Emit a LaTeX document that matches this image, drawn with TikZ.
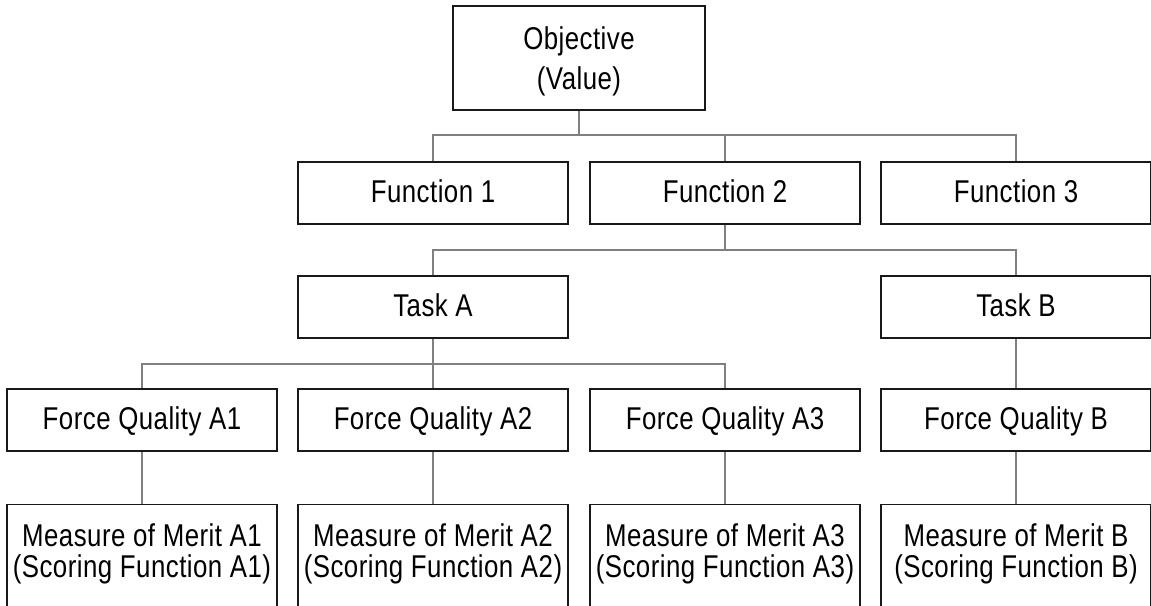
\documentclass[tikz,border=0pt]{standalone}
\usepackage{fontspec}
\newfontfamily\narrowsans[FakeStretch=0.82,LetterSpace=1.5]{Liberation Sans}
\definecolor{linkc}{RGB}{128,128,128}
\definecolor{boxc}{RGB}{25,25,25}
\begin{document}
\begin{tikzpicture}[x=1pt,y=-1pt,
  box/.style={draw=boxc, line width=1.2pt, fill=white, minimum width=270pt, minimum height=62pt,
    inner sep=0pt, text height=22.7pt, text depth=4.5pt, font={\narrowsans\fontsize{31.5}{38}\selectfont}},
  txt/.style={inner sep=0pt, anchor=base, font={\narrowsans\fontsize{31.5}{38}\selectfont}},
  link/.style={draw=linkc, line width=2.2pt}]
\useasboundingbox (0,0) rectangle (1151,605);
\clip (0,0) rectangle (1151,605);
\fill[white] (0,0) rectangle (1151,605);
% boxes
\node[box, minimum width=252pt, minimum height=104pt] (obj) at (579,58) {};
\node[txt] (objt1) at (579,49) {Objective};
\node[txt] (objt2) at (579,89) {(Value)};
\node[box] (f1) at (433,193) {Function 1};
\node[box] (f2) at (725,193) {Function 2};
\node[box] (f3) at (1016,193) {Function 3};
\node[box] (ta) at (433,307) {Task A};
\node[box] (tb) at (1016,307) {Task B};
\node[box] (q1) at (142,420) {Force Quality A1};
\node[box] (q2) at (433,420) {Force Quality A2};
\node[box] (q3) at (725,420) {Force Quality A3};
\node[box] (qb) at (1016,420) {Force Quality B};
\node[box, minimum height=120pt, anchor=north] (m1) at (142,504) {};
\node[box, minimum height=120pt, anchor=north] (m2) at (433,504) {};
\node[box, minimum height=120pt, anchor=north] (m3) at (725,504) {};
\node[box, minimum height=120pt, anchor=north] (mb) at (1016,504) {};
\node[txt] (m1a) at (142,546) {Measure of Merit A1};
\node[txt] (m1b) at (142,577) {(Scoring Function A1)};
\node[txt] (m2a) at (433,546) {Measure of Merit A2};
\node[txt] (m2b) at (433,577) {(Scoring Function A2)};
\node[txt] (m3a) at (725,546) {Measure of Merit A3};
\node[txt] (m3b) at (725,577) {(Scoring Function A3)};
\node[txt] (mba) at (1016,546) {Measure of Merit B};
\node[txt] (mbb) at (1016,577) {(Scoring Function B)};
% connectors
\coordinate (b1) at (579,135);
\coordinate (b2) at (725,250);
\coordinate (b3) at (433,364);
\draw[link] (obj.south) -- (b1);
\draw[link] (b1) -| (f1.north);
\draw[link] (b1) -| (f3.north);
\draw[link] (f2.north) -- (f2.north |- b1);
\draw[link] (f2.south) -- (b2);
\draw[link] (b2) -| (ta.north);
\draw[link] (b2) -| (tb.north);
\draw[link] (ta.south) -- (b3);
\draw[link] (b3) -| (q1.north);
\draw[link] (b3) -| (q3.north);
\draw[link] (b3) -- (q2.north);
\draw[link] (tb.south) -- (qb.north);
\draw[link] (q1.south) -- (m1.north);
\draw[link] (q2.south) -- (m2.north);
\draw[link] (q3.south) -- (m3.north);
\draw[link] (qb.south) -- (mb.north);
\end{tikzpicture}
\end{document}
